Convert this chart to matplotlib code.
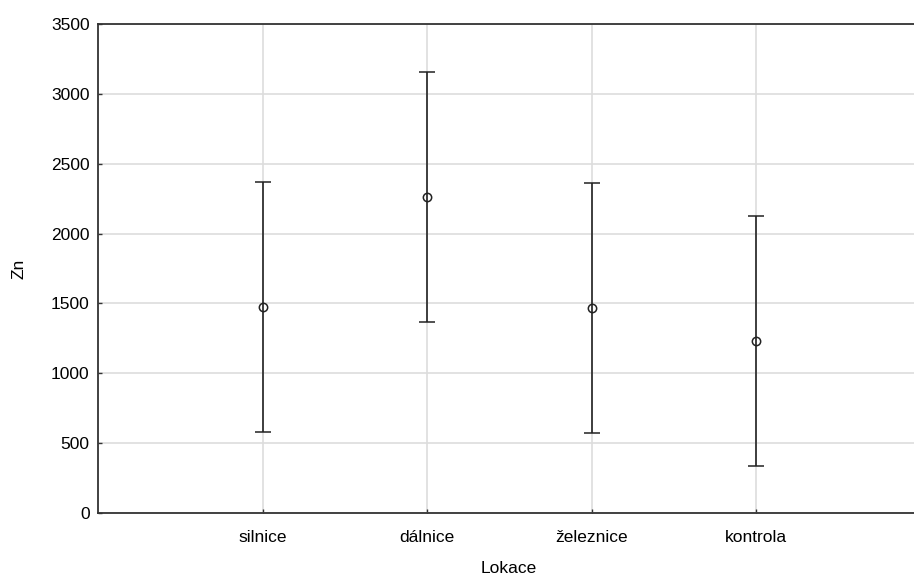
import matplotlib.pyplot as plt
import numpy as np

plt.rcParams['font.family'] = ['Liberation Sans', 'DejaVu Sans']

# Zn by location: mean and half-width of the interval
lokace = ['silnice', 'dálnice', 'železnice', 'kontrola']
zn_mean = [1474, 2262, 1467, 1231]
zn_err = [895, 898, 895, 898]
yticks = [0, 500, 1000, 1500, 2000, 2500, 3000, 3500]

fig = plt.figure(figsize=(9.14, 5.79), dpi=100)
ax = fig.add_axes([0.1072, 0.114, 0.9, 0.8445])

x = np.arange(1, len(lokace) + 1)
ax.errorbar(x, zn_mean, yerr=zn_err, fmt='o', color='#222222',
            mfc='none', mec='#222222', ms=6, mew=1.1,
            ecolor='#222222', elinewidth=1.2, capsize=6, capthick=1.2,
            zorder=3)

ax.set_xlim(0, 5)
ax.set_ylim(0, 3500)
ax.set_xticks(x)
ax.set_xticklabels(lokace)
ax.set_yticks(yticks)
ax.grid(True, color='#dddddd', linewidth=1.2)
ax.set_axisbelow(True)

for side in ['left', 'top', 'bottom']:
    ax.spines[side].set_linewidth(1.3)
    ax.spines[side].set_color('#333333')
ax.spines['right'].set_visible(False)

ax.tick_params(direction='in', length=3, width=1, color='#333333',
               labelsize=12.5, pad=12)
ax.tick_params(axis='y', pad=6)

ax.set_xlabel('Lokace', fontsize=12.5)
ax.set_ylabel('Zn', fontsize=12.5)
ax.xaxis.set_label_coords(0.4997, -0.098)
ax.yaxis.set_label_coords(-0.0863, 0.5)

fig.savefig('out.png', dpi=100)
